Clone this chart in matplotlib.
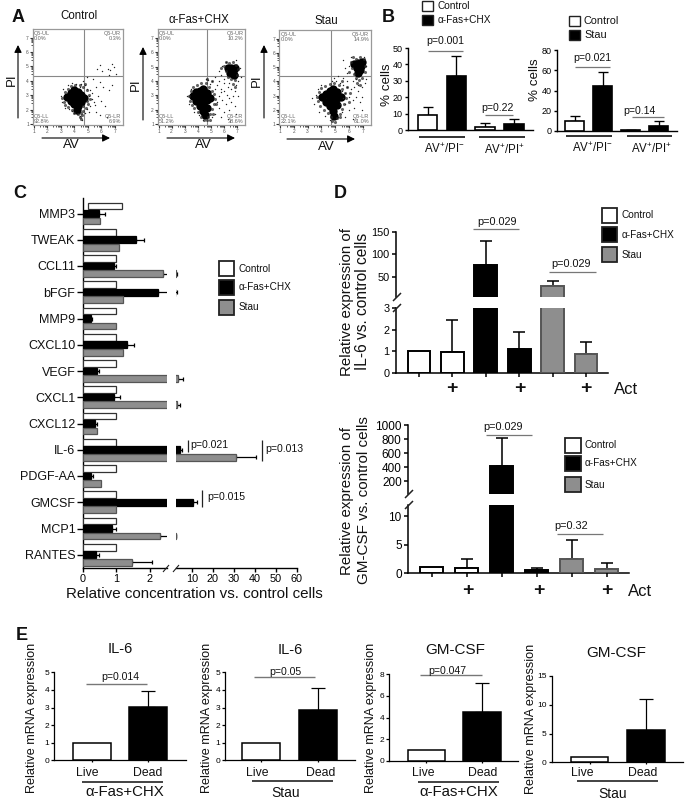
import numpy as np
import matplotlib
matplotlib.use("Agg")
import matplotlib.pyplot as plt
from matplotlib.patches import Rectangle

plt.rcParams['font.family'] = ['Liberation Sans', 'DejaVu Sans']
plt.rcParams['mathtext.fontset'] = 'custom'
plt.rcParams['mathtext.rm'] = 'Liberation Sans'
plt.rcParams['mathtext.default'] = 'regular'

W, H = 685, 800
GREY = '#8e8e8e'
EDGE_GREY = '#555555'
LINE_GREY = '#777777'

# ---- Panel A (flow plots, values on 0-100 display scale) ----
flow_titles = ['Control', 'α-Fas+CHX', 'Stau']
flow_quad = [
    ['Q5-UL\n0.0%', 'Q5-UR\n0.3%', 'Q5-LL\n92.8%', 'Q5-LR\n6.9%'],
    ['Q5-UL\n0.0%', 'Q5-UR\n10.2%', 'Q5-LL\n51.2%', 'Q5-LR\n38.6%'],
    ['Q5-UL\n0.0%', 'Q5-UR\n14.9%', 'Q5-LL\n22.1%', 'Q5-LR\n61.0%'],
]
ctrl_core = [(38, 29), (42, 25), (42, 33), (46, 22), (46, 29), (46, 36), (50, 20), (50, 27), (50, 34), (54, 24),
             (54, 31), (57, 28), (49, 16)]
ctrl_mid = [(33, 28), (35, 24), (36, 34), (39, 38), (42, 41), (47, 42), (52, 42), (56, 40), (60, 36), (62, 31),
            (63, 27), (61, 22), (59, 18), (56, 15), (53, 13), (50, 11), (55, 10), (52, 8), (54, 6), (46, 13),
            (43, 16), (39, 19), (36, 21), (58, 43), (60, 25), (56, 20)]
ctrl_dots = [(56, 46), (54, 43), (58, 42), (52, 40), (60, 38), (63, 36), (66, 33), (62, 30), (66, 27), (68, 24),
             (64, 20), (60, 17), (62, 14), (58, 12), (55, 5), (52, 9), (49, 11), (46, 13), (43, 15), (40, 17),
             (36, 18), (33, 24), (31, 30), (34, 38), (39, 42), (43, 44), (48, 43), (72, 30), (76, 25), (80, 20),
             (84, 36), (88, 42), (70, 40), (75, 45), (84, 52), (77, 56), (71, 58), (86, 57), (90, 60), (92, 53),
             (70, 14), (74, 10), (82, 8), (78, 40), (67, 48), (60, 50), (74, 62), (88, 64), (83, 58), (69, 21)]
fas_core = [(40, 30), (44, 25), (44, 34), (48, 20), (48, 28), (48, 36), (52, 15), (52, 22), (52, 30), (52, 38),
            (56, 18), (56, 26), (56, 33), (60, 28), (54, 10),
            (80, 60), (84, 60), (86, 56), (83, 54), (87, 52), (88, 60)]
fas_mid = [(36, 30), (37, 25), (38, 36), (41, 40), (45, 42), (50, 44), (55, 44), (59, 40), (62, 36), (65, 32),
           (66, 27), (64, 22), (62, 17), (60, 12), (58, 8), (56, 5), (53, 5), (50, 8), (46, 14), (42, 18),
           (39, 21), (62, 46), (57, 48), (60, 5), (63, 12), (67, 22),
           (76, 62), (78, 56), (73, 60), (90, 63), (92, 58), (91, 52), (88, 47), (86, 43), (84, 48), (80, 50),
           (82, 65), (86, 66), (78, 66), (88, 40)]
fas_dots = [(62, 46), (58, 47), (55, 48), (68, 42), (72, 38), (76, 36), (80, 40), (84, 38), (88, 36), (90, 42),
            (70, 30), (74, 26), (78, 22), (82, 28), (86, 30), (70, 18), (76, 14), (82, 16), (88, 20), (66, 12),
            (62, 8), (72, 8), (80, 6), (90, 12), (36, 22), (34, 30), (38, 38), (42, 14), (47, 10), (52, 5),
            (76, 48), (72, 52), (70, 56), (74, 62), (78, 66), (90, 68), (94, 60), (95, 50), (92, 46), (66, 50),
            (68, 24), (73, 34), (79, 31), (84, 24), (92, 30), (66, 38), (60, 43), (76, 44), (82, 44), (70, 46)]
stau_core = [(47, 29), (51, 24), (51, 33), (55, 20), (55, 28), (55, 36), (59, 15), (59, 23), (59, 31), (59, 38),
             (63, 21), (63, 28), (63, 35), (67, 30), (60, 9),
             (82, 64), (86, 65), (89, 62), (85, 60), (88, 58), (86, 55), (90, 66)]
stau_mid = [(41, 30), (42, 25), (43, 35), (46, 39), (50, 41), (55, 43), (60, 44), (65, 42), (69, 38), (72, 34),
            (73, 28), (71, 22), (68, 17), (66, 12), (63, 7), (61, 3), (58, 4), (56, 8), (53, 13), (49, 16),
            (45, 20), (68, 46), (74, 40), (66, 8), (76, 24), (77, 34),
            (78, 66), (79, 60), (76, 56), (92, 70), (94, 62), (93, 56), (90, 50), (87, 47), (84, 50), (82, 54),
            (84, 70), (88, 72), (80, 72), (88, 42), (85, 44)]
stau_dots = [(62, 46), (66, 44), (70, 42), (74, 40), (78, 38), (82, 40), (86, 36), (90, 40), (70, 50), (74, 55),
             (72, 34), (76, 30), (80, 26), (84, 30), (88, 24), (72, 22), (76, 16), (82, 18), (90, 16), (68, 14),
             (64, 8), (72, 8), (80, 6), (38, 22), (40, 32), (36, 28), (42, 38), (46, 42), (44, 14), (50, 9),
             (55, 5), (58, 46), (76, 62), (72, 60), (70, 68), (78, 72), (92, 72), (95, 62), (95, 48), (93, 44),
             (68, 36), (74, 46), (80, 46), (84, 48), (90, 30), (66, 22), (86, 42), (70, 28), (64, 52), (60, 50)]

# ---- Panel B ----
b_fas_vals = [9, 33, 2, 3.5]
b_fas_tops = [14.3, 45, 4.5, 6.5]
b_stau_vals = [10, 44, 0.8, 4.5]
b_stau_tops = [14.5, 58, 1.2, 9.5]
b_colors = ['white', 'black', 'white', 'black']
b_fas_ticks = [0, 10, 20, 30, 40, 50]
b_stau_ticks = [0, 20, 40, 60, 80]

# ---- Panel C ----
cytokines = ['MMP3', 'TWEAK', 'CCL11', 'bFGF', 'MMP9', 'CXCL10', 'VEGF', 'CXCL1', 'CXCL12', 'IL-6', 'PDGF-AA',
             'GMCSF', 'MCP1', 'RANTES']
c_ctrl_start = [0.15, 0, 0, 0, 0, 0, 0, 0, 0, 0, 0, 0, 0, 0]
c_ctrl = [1, 1, 1, 1, 1, 1, 1, 1, 1, 1, 1, 1, 1, 1]
c_fas = [0.49, 1.59, 0.93, 2.23, 0.23, 1.31, 0.41, 0.94, 0.36, 4.4, 0.24, 10.8, 0.86, 0.39]
c_fas_top = [0.66, 1.83, 0.98, 3.0, 0.27, 1.52, 0.47, 1.11, 0.42, 5.2, 0.29, 12.4, 0.98, 0.47]
c_stau = [0.5, 1.09, 2.39, 1.18, 1.0, 1.18, 3.5, 3.0, 0.41, 31, 0.53, 1.0, 2.3, 1.46]
c_stau_top = [0.5, 1.09, 3.0, 1.18, 1.0, 1.18, 5.8, 4.2, 0.41, 40.6, 0.53, 1.0, 2.7, 2.06]
c_low_ticks = [0, 1, 2]
c_high_ticks = [10, 20, 30, 40, 50, 60]

# ---- Panel D ----
d_colors = ['white', 'white', 'black', 'black', GREY, GREY]
d_il6_vals = [1, 0.97, 76, 1.13, 30, 0.87]
d_il6_tops = [1, 2.45, 130, 1.87, 40, 1.45]
d_gm_vals = [1, 0.9, 420, 0.45, 2.55, 0.75]
d_gm_tops = [1, 2.45, 815, 0.95, 5.9, 1.75]

# ---- Panel E ----
e_groups = ['Live', 'Dead']
e1_vals, e1_tops = [1, 3.05], [1, 3.93]
e2_vals, e2_tops = [1, 2.85], [1, 4.12]
e3_vals, e3_tops = [1, 4.55], [1, 7.15]
e4_vals, e4_tops = [1, 5.7], [1, 11]

fig = plt.figure(figsize=(W / 100, H / 100), dpi=100)


def axpx(x0, y0, x1, y1):
    a = fig.add_axes([x0 / W, 1 - y1 / H, (x1 - x0) / W, (y1 - y0) / H])
    a.patch.set_alpha(0)
    return a


ov = fig.add_axes([0, 0, 1, 1], zorder=20)
ov.set_xlim(0, W)
ov.set_ylim(H, 0)
ov.axis('off')


def T(x, y, s, size=8, ha='center', va='center', **k):
    ov.text(x, y, s, fontsize=size, ha=ha, va=va, color=k.pop('color', '#111111'), **k)


def L(xs, ys, lw=0.9, color='#222222'):
    ov.plot(xs, ys, color=color, lw=lw, solid_capstyle='butt')


def Arrow(x0, y0, x1, y1):
    ov.annotate('', xy=(x1, y1), xytext=(x0, y0),
                arrowprops=dict(arrowstyle='-|>', color='black', lw=0.8, mutation_scale=11,
                                shrinkA=0, shrinkB=0, edgecolor=LINE_GREY, facecolor='black'))


def legend(x0, x1, ys, h, labels, colors, tx, size, lw=1.3):
    for y, lab, c in zip(ys, labels, colors):
        ov.add_patch(Rectangle((x0, y), x1 - x0, h, fc=c, ec='#222222', lw=lw))
        T(tx, y + h / 2, lab, size=size, ha='left')


def bars(ax, pos, vals, tops, cols, width, lw, cap):
    floor = ax.get_ylim()[0]
    for p, v, t, c in zip(pos, vals, tops, cols):
        ec = EDGE_GREY if c == GREY else 'black'
        ax.bar(p, v, width=width, color=c, edgecolor=ec, lw=lw, zorder=3)
        if t > v and t > floor:
            ax.errorbar(p, v, yerr=[[0], [t - v]], color='black', lw=lw * 0.8, capsize=cap, capthick=lw * 0.8,
                        zorder=2)


def style(ax, lw=1.0, ticksize=7, length=3):
    for s in ['top', 'right']:
        ax.spines[s].set_visible(False)
    ax.spines['left'].set_linewidth(lw)
    ax.spines['bottom'].set_linewidth(lw)
    ax.tick_params(axis='both', labelsize=ticksize, length=length, width=lw, pad=1.5)


# Panel A ------------------------------------------------------------
flow_rects = [(32.7, 29, 123, 125), (157.7, 29.3, 245, 125), (279, 30, 371, 125)]
flow_core = [ctrl_core, fas_core, stau_core]
flow_mid = [ctrl_mid, fas_mid, stau_mid]
flow_dots = [ctrl_dots, fas_dots, stau_dots]
for i, r in enumerate(flow_rects):
    ax = axpx(*r)
    ax.set_xlim(0, 100)
    ax.set_ylim(0, 100)
    for s in ax.spines.values():
        s.set_color('#999999')
        s.set_linewidth(0.9)
    ax.axvline(57, color='#888888', lw=0.8, zorder=1)
    ax.axhline(51.3, color='#888888', lw=0.8, zorder=1)
    ax.scatter(*zip(*flow_core[i]), s=36, c='black', lw=0, zorder=3)
    ax.scatter(*zip(*flow_mid[i]), s=5, c='#222222', lw=0, alpha=0.7, zorder=3)
    ax.scatter(*zip(*flow_dots[i]), s=1.0, c='#222222', lw=0, zorder=3)
    majors = [1.5, 16, 31, 46, 61, 76, 91, 100]
    ax.set_xticks(majors[:-1])
    ax.set_yticks(majors[:-1])
    ax.set_xticklabels(['1', '2', '3', '4', '5', '6', '7'], fontsize=3.5, color='#555555')
    ax.set_yticklabels(['1', '2', '3', '4', '5', '6', '7'], fontsize=3.5, color='#555555')
    minors = [b + d for b in majors[:-2] for d in (7, 10, 12, 13, 14)]
    ax.set_xticks(minors, minor=True)
    ax.set_yticks(minors, minor=True)
    ax.tick_params(which='major', direction='out', length=2.2, width=0.8, color='#333333', pad=0.5)
    ax.tick_params(which='minor', direction='out', length=1.4, width=0.6, color='#333333')
    q = flow_quad[i]
    ax.text(1.5, 98, q[0], fontsize=4, color='#666666', va='top', ha='left', linespacing=0.95)
    ax.text(98, 98, q[1], fontsize=4, color='#666666', va='top', ha='right', linespacing=0.95)
    ax.text(1.5, 1, q[2], fontsize=4, color='#666666', va='bottom', ha='left', linespacing=0.95)
    ax.text(98, 1, q[3], fontsize=4, color='#666666', va='bottom', ha='right', linespacing=0.95)

for (x, y, s) in [(79, 16, flow_titles[0]), (199, 20, flow_titles[1]), (326, 21, flow_titles[2])]:
    T(x, y, s, size=8.3)
for (x, y) in [(71, 145), (203, 145), (326, 147)]:
    T(x, y, 'AV', size=9.5)
for (x, y) in [(12, 80), (136, 85), (257, 81)]:
    T(x, y, 'PI', size=9.5, rotation=90)
for (x0, x1, y) in [(42, 110, 138), (167, 235, 138), (287, 355, 139)]:
    Arrow(x0, y, x1, y)
for (x, y0, y1) in [(18, 118, 45), (143, 120, 47), (264, 118, 45)]:
    Arrow(x, y0, x, y1)
T(18, 18, 'A', size=13, weight='bold')

# Panel B ------------------------------------------------------------
ax = axpx(408, 48, 533, 130)
ax.set_xlim(-0.68, 3.67)
ax.set_ylim(0, 50)
bars(ax, range(4), b_fas_vals, b_fas_tops, b_colors, 0.68, 1.2, 3.6)
style(ax, ticksize=6.5, length=2.5)
ax.set_xticks([])
ax.set_yticks(b_fas_ticks)
ax = axpx(557, 50, 677, 131)
ax.set_xlim(-0.64, 3.65)
ax.set_ylim(0, 80)
bars(ax, range(4), b_stau_vals, b_stau_tops, b_colors, 0.68, 1.2, 3.6)
style(ax, ticksize=6.5, length=2.5)
ax.set_xticks([])
ax.set_yticks(b_stau_ticks)
T(387, 85, '% cells', size=9.6, rotation=90, ha='center')
T(535, 80, '% cells', size=9.6, rotation=90, ha='center')
T(388, 18, 'B', size=13, weight='bold')
legend(422, 433, [1, 15], 10, ['Control', 'α-Fas+CHX'], ['white', 'black'], 438, 7.3, lw=1.0)
legend(569, 580, [16, 30], 10, ['Control', 'Stau'], ['white', 'black'], 584, 7.8, lw=1.0)
T(445, 41, 'p=0.001', size=7.6)
L([428, 463], [51, 51], color=LINE_GREY)
T(497, 108, 'p=0.22', size=7.6)
L([485, 513], [115, 115], color=LINE_GREY)
T(592, 58, 'p=0.021', size=7.6)
L([575, 610], [67, 67], color=LINE_GREY)
T(639, 111, 'p=0.14', size=7.6)
L([632, 664], [117, 117], color=LINE_GREY)
L([419, 465], [137, 137], lw=1.3)
L([479, 525], [137, 137], lw=1.3)
L([566, 612], [136, 136], lw=1.3)
L([627, 672], [135.5, 135.5], lw=1.3)
for x, y, s in [(444, 149.5, 'AV$^{+}$/PI$^{-}$'), (504, 150, 'AV$^{+}$/PI$^{+}$'),
                (592, 148, 'AV$^{+}$/PI$^{-}$'), (651, 149.5, 'AV$^{+}$/PI$^{+}$')]:
    T(x, y, s, size=8.3)

# Panel C ------------------------------------------------------------
ypos = np.arange(len(cytokines))
yl = ((568 - 213.5) / 26.25, (198 - 213.5) / 26.25)
axl = axpx(83, 198, 166.7, 568)
axr = axpx(176, 198, 296.7, 568)
axl.set_xlim(0, 2.5)
axr.set_xlim(2.5, 60)
for a in (axl, axr):
    a.set_ylim(*yl)
    floor = a.get_xlim()[0]
    off, h = 0.286, 0.26
    a.barh(ypos - off, c_ctrl, left=c_ctrl_start, height=h, color='white', edgecolor='#333333', lw=0.9, zorder=3)
    a.barh(ypos, c_fas, height=h, color='black', edgecolor='black', lw=0.9, zorder=3)
    a.barh(ypos + off, c_stau, height=h, color=GREY, edgecolor=EDGE_GREY, lw=0.9, zorder=3)
    for y, v, t in zip(ypos, c_fas, c_fas_top):
        if t > v and t > floor:
            a.errorbar(v, y, xerr=[[0], [t - v]], color='black', lw=0.9, capsize=1.6, capthick=0.9, zorder=2)
    for y, v, t in zip(ypos + off, c_stau, c_stau_top):
        if t > v and t > floor:
            a.errorbar(v, y, xerr=[[0], [t - v]], color='black', lw=0.9, capsize=1.6, capthick=0.9, zorder=2)
    style(a, lw=1.0, ticksize=7.8)
axl.set_yticks(ypos)
axl.set_yticklabels(cytokines, fontsize=9, color='#111111')
axl.tick_params(axis='y', length=4, pad=1.5)
axl.set_xticks(c_low_ticks)
axl.spines['bottom'].set_bounds(0, 2.5)
axr.spines['left'].set_visible(False)
axr.set_yticks([])
axr.set_xticks(c_high_ticks)
L([163, 169], [572, 565], lw=0.8)
L([173, 179], [572, 565], lw=0.8)
T(194, 594, 'Relative concentration vs. control cells', size=10.9)
T(20, 193, 'C', size=13, weight='bold')
legend(219, 234, [261, 280, 300], 15, ['Control', 'α-Fas+CHX', 'Stau'], ['white', 'black', GREY], 239, 7.2)
L([188, 188], [440, 452])
T(190, 445, 'p=0.021', size=7.6, ha='left')
L([262, 262], [440, 461])
T(265, 449, 'p=0.013', size=7.6, ha='left')
L([202, 202], [490, 507])
T(207, 497, 'p=0.015', size=7.6, ha='left')

# Panel D ------------------------------------------------------------
def broken(rect_hi, rect_lo, lim_hi, lim_lo, vals, tops, xlim, hi_ticks, lo_ticks, tick):
    hi = axpx(*rect_hi)
    lo = axpx(*rect_lo)
    for a, lim in ((hi, lim_hi), (lo, lim_lo)):
        a.set_xlim(*xlim)
        a.set_ylim(*lim)
        bars(a, range(6), vals, tops, d_colors, 0.68, 1.4, 4.6)
        style(a, lw=1.1, ticksize=tick, length=3)
    hi.spines['bottom'].set_visible(False)
    hi.set_xticks([])
    hi.set_yticks(hi_ticks)
    lo.set_yticks(lo_ticks)
    lo.set_xticks(range(6))
    lo.set_xticklabels([])


broken((396, 232, 608, 297.3), (396, 307.7, 608, 373.3), (4, 150), (0, 3), d_il6_vals, d_il6_tops,
       ((396 - 419) / 33.4, (608 - 419) / 33.4), [50, 100, 150], [0, 1, 2, 3], 7.8)
broken((408, 425.3, 629, 493.7), (408, 505, 629, 573), (18, 1000), (0, 12), d_gm_vals, d_gm_tops,
       ((408 - 431.5) / 35, (629 - 431.5) / 35), [200, 400, 600, 800, 1000], [0, 5, 10], 8.5)
L([393, 401], [301, 293], lw=1.1)
L([393, 401], [312, 304], lw=1.1)
L([405, 413], [498, 490], lw=1.1)
L([405, 413], [509, 501], lw=1.1)
T(347, 302, 'Relative expression of', size=10.8, rotation=90)
T(363, 301, 'IL-6 vs. control cells', size=11.2, rotation=90)
T(347, 501, 'Relative expression of', size=10.8, rotation=90)
T(364, 500, 'GM-CSF vs. control cells', size=11, rotation=90)
T(340, 193, 'D', size=13, weight='bold')
for x in (452, 519.5, 586):
    T(x, 389, '+', size=14, weight='bold')
T(614, 390, 'Act', size=12, ha='left')
for x in (468, 539, 607):
    T(x, 591, '+', size=14, weight='bold')
T(628, 592, 'Act', size=12, ha='left')
legend(602, 617, [208, 227, 247], 15, ['Control', 'α-Fas+CHX', 'Stau'], ['white', 'black', GREY], 622, 7.2)
legend(565, 581, [438, 456, 477], 15, ['Control', 'α-Fas+CHX', 'Stau'], ['white', 'black', GREY], 585, 7.2)
T(497, 222, 'p=0.029', size=7.8)
L([473, 519], [229, 229], color=LINE_GREY)
T(571, 264, 'p=0.029', size=7.8)
L([549, 596], [272, 272], color=LINE_GREY)
T(503, 427, 'p=0.029', size=7.8)
L([486, 532], [435, 435], color=LINE_GREY)
T(571, 526, 'p=0.32', size=7.8)
L([557, 603], [534, 534], color=LINE_GREY)

# Panel E ------------------------------------------------------------
def mrna(x0, x1, ytop, ybot, c0, dx, ymax, ticks, vals, tops):
    a = axpx(x0, ytop, x1, ybot)
    a.set_xlim((x0 - c0) / dx, (x1 - c0) / dx)
    a.set_ylim(0, ymax)
    bars(a, [0, 1], vals, tops, ['white', 'black'], 0.67, 1.1, 4.8)
    style(a, lw=0.9, ticksize=6, length=2)
    a.set_yticks(ticks)
    a.set_xticks([0, 1])
    a.set_xticklabels([])
    a.tick_params(axis='x', length=1.5)


mrna(54.3, 185.7, 672.3, 760.3, 91.7, 56.3, 5, range(6), e1_vals, e1_tops)
mrna(225, 355, 672.3, 760.3, 261.3, 56.7, 5, range(6), e2_vals, e2_tops)
mrna(389, 518, 674.3, 760.7, 426.3, 55.7, 8, [0, 2, 4, 6, 8], e3_vals, e3_tops)
mrna(551.7, 683, 676, 762.3, 589.5, 56.2, 15, [0, 5, 10, 15], e4_vals, e4_tops)

T(22, 635, 'E', size=13, weight='bold')
for x, y, s, z in [(120, 649, 'IL-6', 10.5), (290, 650, 'IL-6', 10.5), (455, 650, 'GM-CSF', 11),
                   (615.7, 652.7, 'GM-CSF', 11)]:
    T(x, y, s, size=z)
for x, y in [(32, 718), (207, 718), (371, 718), (531, 719)]:
    T(x, y, 'Relative mRNA expression', size=9.1, rotation=90)
for x, y, xl, yl_, s in [(120, 677, (86, 147), 684, 'p=0.014'), (285.7, 672, (254, 315), 677, 'p=0.05'),
                         (447, 670.7, (420, 481.7), 675, 'p=0.047')]:
    T(x, y, s, size=7.6)
    L(list(xl), [yl_, yl_], color=LINE_GREY, lw=1.0)
for lx, dx, lab, ln, ly, cx, cy, z in [
    (87, 148, 'α-Fas+CHX', (82, 163), 782, 125, 792.5, 10.8),
    (257, 320.7, 'Stau', (251.7, 332.7), 780.7, 285.7, 793, 10),
    (423, 482.7, 'α-Fas+CHX', (417.7, 499), 782.3, 459, 792.5, 10.8),
    (582, 642.7, 'Stau', (576.7, 657.7), 781, 613, 794, 10),
]:
    T(lx, 773, e_groups[0], size=8.8)
    T(dx, 773, e_groups[1], size=8.8)
    L(list(ln), [ly, ly], lw=1.2)
    T(cx, cy, lab, size=z)

fig.savefig('out.png', dpi=100)
